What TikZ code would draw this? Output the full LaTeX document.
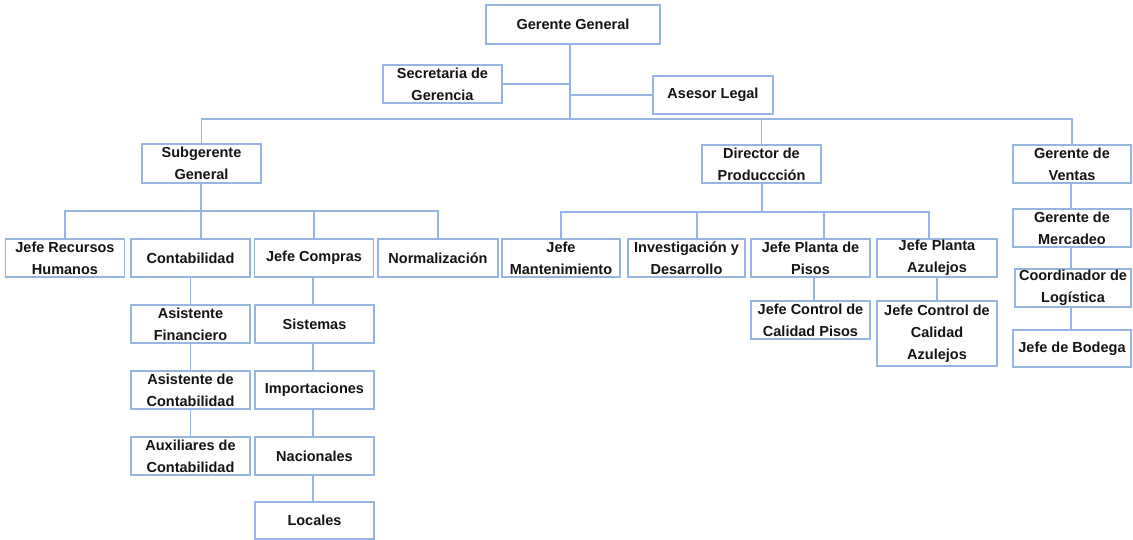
\documentclass[tikz,border=0pt]{standalone}
\usepackage{fontspec}
\setmainfont{Liberation Sans}
\definecolor{lineblue}{HTML}{97B5E3}
\definecolor{txt}{HTML}{141414}
\tikzset{
  box/.style={draw=lineblue, line width=1.6pt, fill=white, inner sep=0pt, align=center,
    text=txt, font=\fontsize{14.5}{22}\selectfont\bfseries},
  conn/.style={draw=lineblue, line width=1.6pt}
}
\begin{document}
\begin{tikzpicture}[x=1pt,y=-1pt]
\useasboundingbox (0,0) rectangle (1133,540);
% top level
\node[box, minimum width=174pt, minimum height=39pt] (gg) at (573,24.5) {Gerente General};
\node[box, minimum width=119pt, minimum height=38pt] (sec) at (442.5,84) {Secretaria de\\Gerencia};
\node[box, minimum width=120pt, minimum height=38pt] (ase) at (713,95) {Asesor Legal};
% level 1
\node[box, minimum width=119pt, minimum height=39pt] (sub) at (201.5,163.5) {Subgerente\\General};
\node[box, minimum width=119pt, minimum height=38pt] (dir) at (761.5,164) {Director de\\Produccción};
\node[box, minimum width=118pt, minimum height=38pt] (gv) at (1072,164) {Gerente de\\Ventas};
% level 2
\node[box, minimum width=119pt, minimum height=38pt] (jrh) at (65,258) {Jefe Recursos\\Humanos};
\node[box, minimum width=119pt, minimum height=38pt] (con) at (190.5,258) {Contabilidad};
\node[box, minimum width=119pt, minimum height=38pt] (com) at (314,258) {Jefe Compras};
\node[box, minimum width=120pt, minimum height=38pt] (nor) at (438,258) {Normalización};
\node[box, minimum width=118pt, minimum height=38pt] (jm) at (561,258) {Jefe\\Mantenimiento};
\node[box, minimum width=117pt, minimum height=38pt] (id) at (686.5,258) {Investigación y\\Desarrollo};
\node[box, minimum width=119pt, minimum height=38pt] (jpp) at (810.5,258) {Jefe Planta de\\Pisos};
\node[box, minimum width=120pt, minimum height=38pt] (jpa) at (937,258) {Jefe Planta\\Azulejos};
% contabilidad column
\node[box, minimum width=119pt, minimum height=38pt] (af) at (190.5,324) {Asistente\\Financiero};
\node[box, minimum width=119pt, minimum height=38pt] (ac) at (190.5,390) {Asistente de\\Contabilidad};
\node[box, minimum width=119pt, minimum height=38pt] (aux) at (190.5,456) {Auxiliares de\\Contabilidad};
% compras column
\node[box, minimum width=119pt, minimum height=38pt] (sis) at (314.5,324) {Sistemas};
\node[box, minimum width=119pt, minimum height=38pt] (imp) at (314.5,390) {Importaciones};
\node[box, minimum width=119pt, minimum height=38pt] (nac) at (314.5,456) {Nacionales};
\node[box, minimum width=119pt, minimum height=37pt] (loc) at (314.5,520.5) {Locales};
% control de calidad
\node[box, minimum width=119pt, minimum height=38pt] (cp) at (810.5,320) {Jefe Control de\\Calidad Pisos};
\node[box, minimum width=120pt, minimum height=65pt] (ca) at (937,333.5) {Jefe Control de\\Calidad\\Azulejos};
% ventas column
\node[box, minimum width=118pt, minimum height=38pt] (gm) at (1072,228) {Gerente de\\Mercadeo};
\node[box, minimum width=116pt, minimum height=38pt] (cl) at (1073,288) {Coordinador de\\Logística};
\node[box, minimum width=118pt, minimum height=37pt] (jb) at (1072,348.5) {Jefe de Bodega};

% connectors
\coordinate (gbus) at (570,119);
\draw[conn] (gg.south -| gbus) -- (gbus);
\draw[conn] (sec.east) -- (sec.east -| gbus);
\draw[conn] (ase.west) -- (ase.west -| gbus);
\draw[conn] (sub.north) -- (sub.north |- gbus) -- (gv.north |- gbus) -- (gv.north);
\draw[conn] (dir.north) -- (dir.north |- gbus);

% subgerente branch
\coordinate (sbus) at (201,211);
\draw[conn] (sub.south -| sbus) -- (sbus) -- (sbus |- con.north);
\draw[conn] (jrh.north) -- (jrh.north |- sbus) -- (nor.north |- sbus) -- (nor.north);
\draw[conn] (com.north) -- (com.north |- sbus);

% director branch
\coordinate (dbus) at (762,212);
\coordinate (d2) at (697,212);
\coordinate (d3) at (824,212);
\coordinate (d4) at (929,212);
\draw[conn] (dir.south -| dbus) -- (dbus);
\draw[conn] (jm.north) -- (jm.north |- dbus) -- (d4) -- (d4 |- jpa.north);
\draw[conn] (d2) -- (d2 |- id.north);
\draw[conn] (d3) -- (d3 |- jpp.north);
\coordinate (pcol) at (814,300);
\draw[conn] (jpp.south -| pcol) -- (cp.north -| pcol);
\draw[conn] (jpa.south) -- (ca.north);

% contabilidad column lines
\draw[conn] (con.south) -- (af.north);
\draw[conn] (af.south) -- (ac.north);
\draw[conn] (ac.south) -- (aux.north);
% compras column lines
\coordinate (ccol) at (313,300);
\draw[conn] (com.south -| ccol) -- (sis.north -| ccol);
\draw[conn] (sis.south -| ccol) -- (imp.north -| ccol);
\draw[conn] (imp.south -| ccol) -- (nac.north -| ccol);
\draw[conn] (nac.south -| ccol) -- (loc.north -| ccol);
% ventas column lines
\coordinate (vcol) at (1071,300);
\draw[conn] (gv.south -| vcol) -- (gm.north -| vcol);
\draw[conn] (gm.south -| vcol) -- (cl.north -| vcol);
\draw[conn] (cl.south -| vcol) -- (jb.north -| vcol);
\end{tikzpicture}
\end{document}
